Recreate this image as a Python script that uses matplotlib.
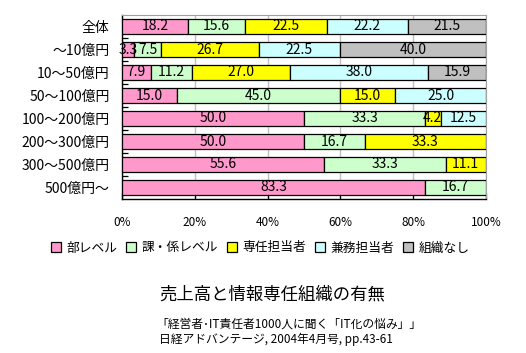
import matplotlib
matplotlib.use("Agg")
import matplotlib.pyplot as plt
from matplotlib.patches import Patch
import numpy as np

plt.rcParams['font.family'] = ['Noto Sans CJK JP', 'DejaVu Sans']

categories = ["全体", "～10億円", "10～50億円", "50～100億円", "100～200億円",
              "200～300億円", "300～500億円", "500億円～"]
series_names = ["部レベル", "課・係レベル", "専任担当者", "兼務担当者", "組織なし"]
bu = [18.2, 3.3, 7.9, 15.0, 50.0, 50.0, 55.6, 83.3]
ka = [15.6, 7.5, 11.2, 45.0, 33.3, 16.7, 33.3, 16.7]
sennin = [22.5, 26.7, 27.0, 15.0, 4.2, 33.3, 11.1, 0.0]
kenmu = [22.2, 22.5, 38.0, 25.0, 12.5, 0.0, 0.0, 0.0]
nashi = [21.5, 40.0, 15.9, 0.0, 0.0, 0.0, 0.0, 0.0]
xticks = [0, 20, 40, 60, 80, 100]
xticklabels = ["0%", "20%", "40%", "60%", "80%", "100%"]
title = "売上高と情報専任組織の有無"
source1 = "「経営者･IT責任者1000人に聞く「IT化の悩み」」"
source2 = "日経アドバンテージ, 2004年4月号, pp.43-61"

colors = ["#FF99CC", "#CCFFCC", "#FFFF00", "#CCFFFF", "#C0C0C0"]
series = [bu, ka, sennin, kenmu, nashi]

fig = plt.figure(figsize=(5.26, 3.53), dpi=100)
ax = fig.add_axes([122/526, 1-199/353, 364/526, 184/353])

y = np.arange(len(categories))
left = np.zeros(len(categories))
for vals, col in zip(series, colors):
    vals = np.array(vals)
    for i, v in enumerate(vals):
        if v > 0:
            ax.barh(y[i], v, left=left[i], height=0.65, color=col,
                    edgecolor="black", linewidth=0.9, zorder=3)
            ax.text(left[i] + v/2, y[i], f"{v:.1f}", ha="center", va="center",
                    fontsize=10, zorder=4, color="black")
    left += vals

ax.set_xlim(0, 100)
ax.set_ylim(len(categories) - 0.5, -0.5)
ax.set_xticks(xticks)
ax.set_xticklabels(xticklabels, fontsize=8.5)
ax.tick_params(axis="x", direction="in", length=4, pad=12, width=0.9)
ax.set_yticks(y)
ax.set_yticklabels(categories, fontsize=10)
ax.tick_params(axis="y", which="major", length=0, pad=9)
ax.set_yticks(np.arange(len(categories) - 1) + 0.5, minor=True)
ax.tick_params(axis="y", which="minor", direction="in", length=4, width=0.9)
ax.xaxis.grid(True, color="#C0C0C0", linewidth=1, zorder=0)
ax.set_axisbelow(True)
for s in ["top", "right"]:
    ax.spines[s].set_color("#A0A0A0")
for s in ["left", "bottom"]:
    ax.spines[s].set_color("black")
    ax.spines[s].set_linewidth(1)

handles = [Patch(facecolor=c, edgecolor="black", linewidth=0.9) for c in colors]
fig.legend(handles, series_names, loc="center", bbox_to_anchor=(260/526, 1-248/353),
           ncol=5, frameon=False, fontsize=9.2, handlelength=0.8, handleheight=0.8,
           handletextpad=0.4, columnspacing=0.7)

fig.text(272/526, 1-294/353, title, ha="center", va="center", fontsize=12.5)
fig.text(156/526, 1-324/353, source1, ha="left", va="center", fontsize=8.5)
fig.text(159/526, 1-339/353, source2, ha="left", va="center", fontsize=8.5)

fig.savefig("out.png", dpi=100)
